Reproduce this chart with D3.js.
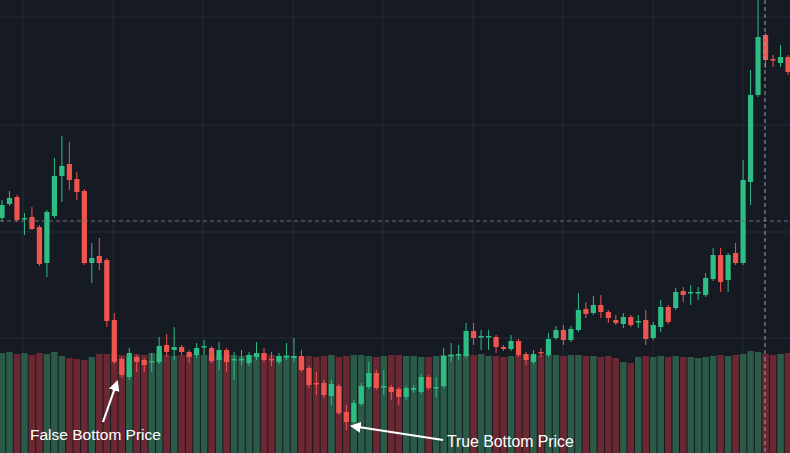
<!DOCTYPE html>
<html>
<head>
<meta charset="utf-8">
<script src="https://cdn.jsdelivr.net/npm/d3@7"></script>
<style>
  html, body { margin: 0; padding: 0; background: #161a22; overflow: hidden; }
  text { font-family: "Liberation Sans", Arial, sans-serif; }
</style>
</head>
<body>
<script>
// OHLC (unitless price)
var opens  = [242,256,263,241,243,233,197,244,284,296,281,269,197,204,200,140,101,83,103,100,98,98,115,110,113,108,105,113,112,100,110,100,100,97,103,
              107,101,98,103,102,104,92,77,77,64,74,48,38,56,73,87,73,73,71,63,70,68,83,73,74,104,105,104,129,123,123,123,113,111,119,106,98,
              108,105,122,130,120,130,151,147,155,148,140,136,143,138,140,122,133,153,152,169,167,167,165,181,205,180,207,197,278,365,425,401,397,403];
var closes = [255,262,240,242,231,196,248,284,294,280,268,197,202,197,139,98,85,107,98,95,99,114,108,113,108,103,112,114,99,110,98,101,101,105,107,
              100,100,104,104,104,90,75,76,65,76,47,38,57,74,87,72,74,68,63,72,72,83,72,73,104,105,106,129,122,124,124,113,111,119,105,100,106,
              107,121,130,120,131,150,146,155,148,142,137,143,135,139,121,135,153,138,168,165,168,168,182,205,178,205,197,280,365,423,400,400,403,388];
var highs  = [260,269,265,247,253,235,250,302,324,318,288,271,217,222,202,147,103,112,105,102,107,123,126,133,115,110,117,120,114,118,112,108,110,108,118,
              112,108,107,117,122,110,94,88,80,80,76,55,60,77,98,90,90,75,73,74,75,86,85,83,112,117,115,137,137,130,130,125,115,125,121,108,110,
              112,127,134,135,134,167,158,164,165,150,145,147,145,145,150,138,160,155,172,173,175,173,187,212,212,207,217,300,390,460,427,405,415,405];
var lows   = [238,254,238,225,230,194,183,242,258,270,260,195,177,190,133,96,82,80,88,88,88,96,103,100,105,97,102,105,97,90,88,80,95,94,100,
              98,94,96,100,98,88,72,65,62,55,45,30,36,54,71,70,65,60,55,60,67,66,70,63,72,98,100,102,115,110,110,107,109,109,103,95,96,
              103,103,120,115,118,128,142,145,142,137,135,132,133,132,115,120,128,136,150,158,155,160,163,179,168,168,195,195,255,363,392,393,393,385];
// volume, same order as the candles
var volumes = [100,101,99,100,98,100,99,101,97,95,94,93,96,99,99,100,98,97,99,98,100,99,98,97,98,99,99,98,98,97,99,98,97,98,99,
               99,98,97,98,97,96,97,96,97,98,96,97,98,98,97,96,97,98,98,97,97,96,96,97,98,99,98,99,98,99,97,97,96,97,98,97,98,
               98,99,98,97,98,98,97,97,96,97,95,91,90,96,97,96,97,96,97,96,96,95,96,97,98,97,98,99,102,101,99,98,99,100];
var gridXs = [23,113,203,293,383,473,563,653,743];
var gridYs = [17,125,232,338];

var W = 790, H = 453;
var svg = d3.select("body").append("svg").attr("width", W).attr("height", H);
svg.append("rect").attr("width", W).attr("height", H).attr("fill", "#161a22");

var idx = d3.range(opens.length);
var x = d3.scalePoint().domain(idx).range([2, 788]);
var y = d3.scaleLinear().domain([0, 460]).range([460, 0]);
var vy = d3.scaleLinear().domain([0, 100]).range([H, H - 100]);

var up = "#2ebd85", down = "#f0544f";
var vUp = "#2b5a48", vDown = "#6b2833";

// grid
svg.selectAll(".gx").data(gridXs).enter().append("line")
    .attr("x1", d => d).attr("x2", d => d).attr("y1", 0).attr("y2", H)
    .attr("stroke", "#262b36").attr("stroke-width", 1);
svg.selectAll(".gy").data(gridYs).enter().append("line")
    .attr("x1", 0).attr("x2", W).attr("y1", d => d).attr("y2", d => d)
    .attr("stroke", "#262b36").attr("stroke-width", 1);

// volume bars
var step = x.step();
svg.selectAll(".vol").data(idx).enter().append("rect")
    .attr("x", i => x(i) - step / 2 + 0.5)
    .attr("width", step - 1)
    .attr("y", i => vy(volumes[i]))
    .attr("height", i => H - vy(volumes[i]))
    .attr("fill", i => closes[i] >= opens[i] ? vUp : vDown);

// candles
var c = svg.selectAll(".candle").data(idx).enter().append("g");
c.append("line")
    .attr("x1", i => x(i)).attr("x2", i => x(i))
    .attr("y1", i => y(highs[i])).attr("y2", i => y(lows[i]))
    .attr("stroke", i => closes[i] >= opens[i] ? up : down).attr("stroke-width", 1);
c.append("rect")
    .attr("x", i => x(i) - 2.6).attr("width", 5.2)
    .attr("y", i => y(Math.max(opens[i], closes[i])))
    .attr("height", i => Math.max(1.5, Math.abs(y(opens[i]) - y(closes[i]))))
    .attr("fill", i => closes[i] >= opens[i] ? up : down);

// crosshair
svg.append("line").attr("x1", 0).attr("x2", W).attr("y1", 221).attr("y2", 221)
    .attr("stroke", "#6b7080").attr("stroke-dasharray", "4,3").attr("stroke-width", 1);
svg.append("line").attr("x1", 765).attr("x2", 765).attr("y1", 0).attr("y2", H)
    .attr("stroke", "#9aa0ad").attr("stroke-dasharray", "4,3").attr("stroke-width", 1);

// annotations
var defs = svg.append("defs");
defs.append("marker").attr("id", "ah").attr("viewBox", "0 0 10 10")
    .attr("refX", 8).attr("refY", 5).attr("markerWidth", 5).attr("markerHeight", 5)
    .attr("orient", "auto")
  .append("path").attr("d", "M0,0L10,5L0,10z").attr("fill", "#fff");

svg.append("line").attr("x1", 103).attr("y1", 422).attr("x2", 117).attr("y2", 382)
    .attr("stroke", "#fff").attr("stroke-width", 2.2).attr("marker-end", "url(#ah)");
svg.append("line").attr("x1", 443).attr("y1", 440).attr("x2", 352).attr("y2", 426)
    .attr("stroke", "#fff").attr("stroke-width", 2.2).attr("marker-end", "url(#ah)");

svg.append("text").attr("x", 30).attr("y", 440).attr("fill", "#fff")
    .attr("font-size", 15.5).text("False Bottom Price");
svg.append("text").attr("x", 447).attr("y", 447).attr("fill", "#fff")
    .attr("font-size", 15.8).text("True Bottom Price");
</script>
</body>
</html>
